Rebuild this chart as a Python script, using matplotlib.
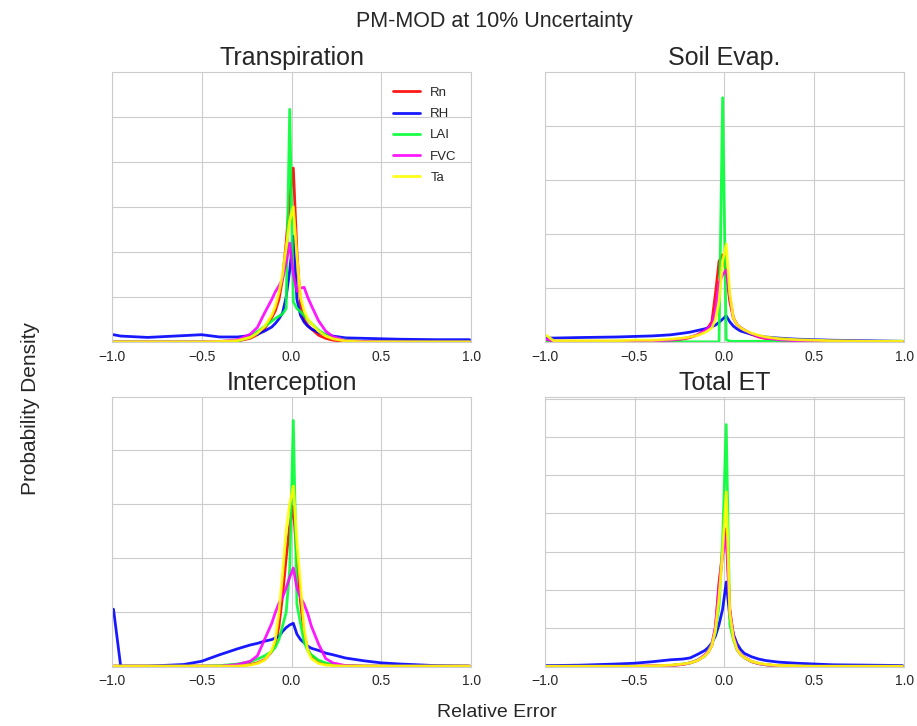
import matplotlib
matplotlib.use("Agg")
import matplotlib.pyplot as plt
import seaborn as sns
import numpy as np

sns.set_style("whitegrid")
plt.rcParams['font.family'] = ['Liberation Sans', 'DejaVu Sans']

# x positions (relative error) at which densities are given
x = [-0.99, -0.95, -0.8, -0.6, -0.5, -0.4, -0.3, -0.23, -0.19, -0.15, -0.11, -0.09, -0.07, -0.05, -0.03, -0.01,
     0.01, 0.03, 0.05, 0.07, 0.09, 0.11, 0.15, 0.19, 0.23, 0.3, 0.4, 0.5, 0.6, 0.8, 0.99]

series_names = ["Rn", "RH", "LAI", "FVC", "Ta"]
series_colors = ["#ff0000", "#0000ff", "#00ff33", "#ff00ff", "#ffff00"]
panel_titles = ["Transpiration", "Soil Evap.", "Interception", "Total ET"]

# ---- Transpiration ----
tr_rn  = [0.01, 0.01, 0.01, 0.01, 0.01, 0.01, 0.03, 0.09, 0.17, 0.30, 0.55, 0.70, 0.95, 1.40, 2.20, 3.20,
          3.86, 2.00, 0.85, 0.50, 0.38, 0.30, 0.16, 0.09, 0.05, 0.02, 0.01, 0.01, 0.01, 0.01, 0.01]
tr_rh  = [0.17, 0.14, 0.11, 0.15, 0.17, 0.12, 0.12, 0.15, 0.18, 0.25, 0.34, 0.42, 0.52, 0.65, 1.00, 1.60,
          2.35, 0.95, 0.60, 0.45, 0.36, 0.30, 0.22, 0.17, 0.14, 0.10, 0.09, 0.08, 0.07, 0.06, 0.06]
tr_lai = [0.01, 0.01, 0.01, 0.01, 0.01, 0.01, 0.03, 0.12, 0.24, 0.35, 0.47, 0.53, 0.58, 0.63, 0.75, 5.16,
          0.90, 0.75, 0.68, 0.60, 0.50, 0.42, 0.27, 0.17, 0.11, 0.05, 0.02, 0.01, 0.01, 0.01, 0.01]
tr_fvc = [0.01, 0.01, 0.01, 0.01, 0.01, 0.02, 0.06, 0.18, 0.33, 0.65, 0.95, 1.12, 1.25, 1.40, 1.75, 2.20,
          1.50, 1.13, 1.20, 1.22, 1.00, 0.82, 0.48, 0.25, 0.13, 0.04, 0.02, 0.01, 0.01, 0.01, 0.01]
tr_ta  = [0.01, 0.01, 0.01, 0.01, 0.01, 0.02, 0.04, 0.11, 0.20, 0.35, 0.60, 0.80, 1.10, 1.50, 2.10, 2.70,
          3.00, 1.90, 1.00, 0.70, 0.52, 0.42, 0.25, 0.14, 0.08, 0.03, 0.01, 0.01, 0.01, 0.01, 0.01]

# ---- Soil Evap. ----
se_rn  = [0.02, 0.01, 0.01, 0.01, 0.01, 0.02, 0.03, 0.06, 0.09, 0.14, 0.22, 0.28, 0.38, 0.90, 1.50, 1.62,
          1.30, 0.75, 0.45, 0.33, 0.27, 0.23, 0.15, 0.10, 0.07, 0.04, 0.03, 0.02, 0.02, 0.01, 0.01]
se_rh  = [0.08, 0.08, 0.09, 0.10, 0.11, 0.12, 0.14, 0.17, 0.19, 0.22, 0.25, 0.27, 0.29, 0.32, 0.37, 0.43,
          0.49, 0.38, 0.30, 0.25, 0.21, 0.19, 0.15, 0.12, 0.10, 0.08, 0.06, 0.05, 0.04, 0.03, 0.02]
se_lai = [0.01, 0.01, 0.01, 0.01, 0.01, 0.01, 0.01, 0.01, 0.01, 0.01, 0.01, 0.01, 0.01, 0.01, 0.00, 4.53,
          0.05, 0.02, 0.02, 0.02, 0.02, 0.02, 0.02, 0.02, 0.02, 0.02, 0.02, 0.02, 0.02, 0.02, 0.02]
se_fvc = [0.06, 0.02, 0.02, 0.02, 0.02, 0.03, 0.04, 0.07, 0.10, 0.14, 0.22, 0.27, 0.33, 0.60, 1.10, 1.25,
          1.34, 0.85, 0.45, 0.33, 0.27, 0.23, 0.16, 0.11, 0.08, 0.05, 0.03, 0.03, 0.02, 0.02, 0.01]
se_ta  = [0.13, 0.03, 0.03, 0.03, 0.04, 0.04, 0.06, 0.08, 0.10, 0.13, 0.18, 0.22, 0.27, 0.42, 0.75, 1.50,
          1.82, 0.90, 0.45, 0.33, 0.27, 0.23, 0.17, 0.13, 0.10, 0.07, 0.05, 0.04, 0.03, 0.02, 0.02]

# ---- Interception ----
in_rn  = [0.01, 0.01, 0.01, 0.01, 0.01, 0.01, 0.02, 0.04, 0.07, 0.13, 0.28, 0.42, 0.75, 1.30, 2.00, 2.60,
          2.96, 2.00, 1.20, 0.60, 0.32, 0.20, 0.09, 0.05, 0.03, 0.02, 0.01, 0.01, 0.01, 0.01, 0.01]
in_rh  = [1.06, 0.01, 0.01, 0.04, 0.10, 0.22, 0.33, 0.40, 0.43, 0.47, 0.50, 0.53, 0.56, 0.65, 0.72, 0.77,
          0.80, 0.60, 0.50, 0.44, 0.38, 0.34, 0.30, 0.25, 0.22, 0.16, 0.11, 0.07, 0.05, 0.02, 0.01]
in_lai = [0.01, 0.01, 0.01, 0.01, 0.01, 0.02, 0.05, 0.09, 0.14, 0.20, 0.28, 0.36, 0.50, 0.75, 1.00, 1.80,
          4.54, 1.15, 0.80, 0.45, 0.30, 0.22, 0.12, 0.07, 0.04, 0.02, 0.01, 0.01, 0.01, 0.01, 0.01]
in_fvc = [0.01, 0.01, 0.01, 0.01, 0.01, 0.01, 0.04, 0.10, 0.20, 0.50, 0.80, 1.00, 1.17, 1.28, 1.45, 1.65,
          1.82, 1.45, 1.28, 1.15, 0.98, 0.75, 0.42, 0.15, 0.07, 0.02, 0.01, 0.01, 0.01, 0.01, 0.01]
in_ta  = [0.01, 0.01, 0.01, 0.01, 0.01, 0.01, 0.01, 0.03, 0.06, 0.12, 0.30, 0.50, 1.00, 1.70, 2.50, 3.00,
          3.33, 2.30, 1.50, 0.70, 0.30, 0.15, 0.06, 0.03, 0.02, 0.01, 0.01, 0.01, 0.01, 0.01, 0.01]

# ---- Total ET ----
et_rn  = [0.01, 0.01, 0.01, 0.01, 0.01, 0.02, 0.03, 0.06, 0.10, 0.16, 0.28, 0.38, 0.55, 1.00, 2.20, 3.00,
          3.60, 1.50, 0.80, 0.45, 0.32, 0.24, 0.13, 0.08, 0.05, 0.02, 0.01, 0.01, 0.01, 0.01, 0.01]
et_rh  = [0.03, 0.03, 0.04, 0.07, 0.09, 0.13, 0.18, 0.20, 0.23, 0.32, 0.42, 0.50, 0.62, 0.80, 1.10, 1.50,
          2.21, 1.30, 0.85, 0.60, 0.45, 0.35, 0.26, 0.20, 0.16, 0.12, 0.09, 0.07, 0.05, 0.04, 0.03]
et_lai = [0.01, 0.01, 0.01, 0.01, 0.01, 0.01, 0.03, 0.07, 0.10, 0.17, 0.28, 0.40, 0.60, 0.90, 1.60, 3.30,
          6.32, 1.10, 0.70, 0.45, 0.32, 0.24, 0.14, 0.08, 0.05, 0.02, 0.01, 0.01, 0.01, 0.01, 0.01]
et_fvc = [0.01, 0.01, 0.01, 0.01, 0.01, 0.02, 0.03, 0.06, 0.10, 0.17, 0.30, 0.40, 0.58, 1.05, 2.10, 2.90,
          3.40, 1.45, 0.80, 0.46, 0.33, 0.25, 0.14, 0.08, 0.05, 0.02, 0.01, 0.01, 0.01, 0.01, 0.01]
et_ta  = [0.01, 0.01, 0.01, 0.01, 0.01, 0.02, 0.04, 0.07, 0.10, 0.16, 0.28, 0.38, 0.55, 0.95, 1.80, 3.00,
          4.56, 1.40, 0.75, 0.45, 0.32, 0.24, 0.14, 0.09, 0.06, 0.03, 0.02, 0.01, 0.01, 0.01, 0.01]

panels = [
    [tr_rn, tr_rh, tr_lai, tr_fvc, tr_ta],
    [se_rn, se_rh, se_lai, se_fvc, se_ta],
    [in_rn, in_rh, in_lai, in_fvc, in_ta],
    [et_rn, et_rh, et_lai, et_fvc, et_ta],
]
y_tops = [5.98, 5.0, 4.98, 7.05]

fig = plt.figure(figsize=(9.17, 7.26), dpi=100)
fig.subplots_adjust(left=0.1218, right=0.9861, top=0.9004, bottom=0.0817,
                    wspace=0.2036, hspace=0.2008)
axes = fig.subplots(2, 2)

for i, ax in enumerate(axes.flat):
    for vals, name, col in zip(panels[i], series_names, series_colors):
        ax.plot(x, vals, color=col, lw=2, label=name, alpha=0.9)
    ax.set_xlim(-1, 1)
    ax.set_ylim(0, y_tops[i])
    ax.set_yticks(np.arange(0, y_tops[i], 1.0))
    ax.set_yticklabels([])
    ax.set_xticks([-1.0, -0.5, 0.0, 0.5, 1.0])
    ax.tick_params(axis='x', labelsize=10, pad=2)
    ax.set_title(panel_titles[i], fontsize=18, pad=5)

axes[0, 0].legend(loc='upper right', fontsize=9.5, frameon=False, labelspacing=0.68,
                  borderaxespad=0.7)

fig.text(0.539, 0.971, "PM-MOD at 10% Uncertainty", ha='center', va='center', fontsize=15.5)
fig.text(0.033, 0.437, "Probability Density", rotation=90, ha='center', va='center', fontsize=15)
fig.text(0.542, 0.018, "Relative Error", ha='center', va='center', fontsize=14)

fig.savefig("out.png", dpi=100)
